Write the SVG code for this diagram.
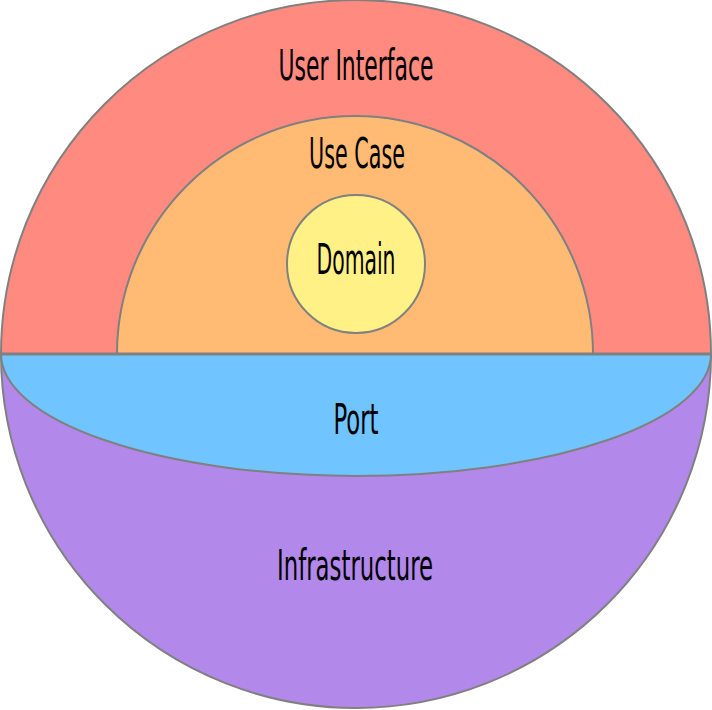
<svg xmlns="http://www.w3.org/2000/svg" width="712" height="710" viewBox="0 0 712 710">
<style>
.shape{stroke:#808080;stroke-width:2}
.lbl{font-family:"DejaVu Sans Condensed","Liberation Sans",sans-serif;font-size:42px;fill:#000;text-anchor:middle}
</style>
<rect width="712" height="710" fill="#fff"/>
<g id="infrastructure">
<path class="shape" d="M1,354 A355,354 0 0 0 711,354 Z" fill="#B388EB"/>
<text class="lbl" x="355" y="580" textLength="156" lengthAdjust="spacingAndGlyphs">Infrastructure</text>
</g>
<g id="user-interface">
<path class="shape" d="M1,354 A355,354 0 0 1 711,354 Z" fill="#FF8A80"/>
<text class="lbl" x="356" y="80" textLength="155" lengthAdjust="spacingAndGlyphs">User Interface</text>
</g>
<g id="port">
<path class="shape" d="M1,354 A355,122 0 0 0 711,354 Z" fill="#70C4FF"/>
<text class="lbl" x="356" y="434" textLength="45" lengthAdjust="spacingAndGlyphs">Port</text>
</g>
<g id="use-case">
<path class="shape" d="M117,354 A238,238 0 0 1 593,354 Z" fill="#FFBB74"/>
<text class="lbl" x="357" y="168" textLength="96" lengthAdjust="spacingAndGlyphs">Use Case</text>
</g>
<g id="domain">
<circle class="shape" cx="356" cy="264" r="69" fill="#FFF185"/>
<text class="lbl" x="356" y="274" textLength="79" lengthAdjust="spacingAndGlyphs">Domain</text>
</g>
<g id="connectors">
<line x1="1" y1="354" x2="711" y2="354" stroke="#808080" stroke-width="3"/>
</g>
</svg>
